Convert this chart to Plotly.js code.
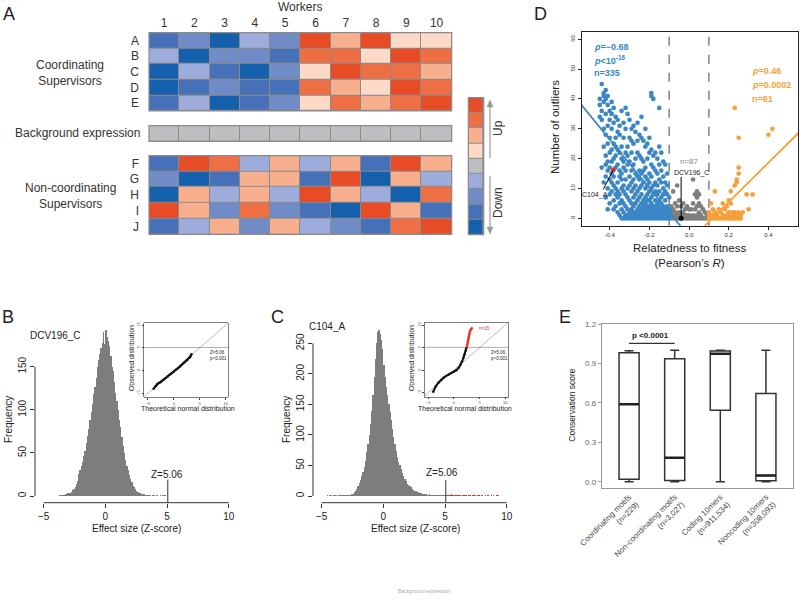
<!DOCTYPE html>
<html><head><meta charset="utf-8">
<script src="https://cdn.plot.ly/plotly-3.0.1.min.js"></script>
<style>html,body{margin:0;padding:0;background:#fff}#chart{width:800px;height:601px}</style>
</head><body><div id="chart"></div>
<script>
// ---------- DATA ----------
const workers=[1,2,3,4,5,6,7,8,9,10];
const coordRows=['A','B','C','D','E'];
const nonCoordRows=['F','G','H','I','J'];
const coordLevels=[
 [-3,-2,-4,-1,-2,4,2,4,1,1],
 [-1,-4,-2,-2,-3,3,3,1,4,3],
 [-4,-1,-3,-4,-2,1,4,3,3,2],
 [-4,-3,-2,-3,-3,3,2,1,4,3],
 [-3,-1,-4,-3,-2,1,3,2,3,4]];
const backgroundLevels=[[0,0,0,0,0,0,0,0,0,0]];
const nonCoordLevels=[
 [-3,4,3,-1,2,-1,2,-3,4,2],
 [-2,-4,-3,2,2,-3,4,-4,2,-1],
 [-4,2,-1,2,-1,4,2,-1,-4,3],
 [4,2,-2,3,-2,-3,-4,4,2,-3],
 [-3,-1,2,-2,2,-1,-2,-3,3,4]];
const legendLevels=[[4],[3],[2],[1],[0],[-1],[-2],[-3],[-4]];
const levelColors=['#1560ad','#4671b9','#6f8cc7','#9eacdc','#bdbec2','#fcdac7','#f7af8d','#ef6f45','#e84c26'];

const binWidth=0.1;
const histBStart=-3.8;
const histBCounts=[1,1,1,1,1,2,2,3,3,4, 5,7,8,11,14,17,25,30,35,40, 47,52,62,70,78,88,97,107,118,127,
 137,150,158,165,172,178,190,176,193,185, 180,174,163,150,145,132,120,110,100,88, 80,68,58,50,42,35,30,24,20,16,
 12,10,8,6,5,4,3,2,2,2, 1,1,1,1,1,0,1,1,0,1, 1,0,1,0,1,1,1];
const histCStart=-4.6;
const histCCounts=[1,0,1,1,0,1,1,1,0,1,1,1,1,1,2,1,1,1,2,2,
 3,4,6,9,12,17,22,27,33,40, 48,58,72,85,100,118,140,165,195,225,
 250,268,272,265,255,240,215,195,178,165, 150,138,125,110,97,85,74,64,56,50,
 44,38,33,28,24,20,18,16,14,12, 10,9,8,7,6,5,5,4,4,3, 3,2,2,3,2,1,2,1,2,1, 1,2,1,1,2,1,
 2,1,1,2,1,3,2,1,2,1,1,2,1,0,1,1,2,1,0,1,1,0,1,1,1,0,1,1,0,1,1,0,1,0,1,1,0,1,0,1,0,1,1,1];
const zThreshold=5.06;

const qqBTheo=[-3.9,-3.6,-3.3,-3.0,-2.7,-2.4,-2.0,-1.6,-1.2,-0.8,-0.4,0,0.4,0.8,1.2,1.6,2.0,2.4,2.7,3.0,3.2,3.4];
const qqBObs=[-4.0,-3.6,-3.1,-2.8,-2.65,-2.4,-2.05,-1.7,-1.3,-0.95,-0.6,-0.25,0.15,0.5,0.9,1.3,1.7,2.1,2.45,2.8,3.1,3.6];
const qqCTheo=[-4.0,-3.5,-3.0,-2.5,-2.0,-1.5,-1.0,-0.5,0,0.5,1.0,1.3,1.6,1.9,2.1,2.3,2.45];
const qqCObs=[-4.8,-3.6,-2.8,-2.2,-1.7,-1.3,-0.95,-0.65,-0.35,0,0.6,1.2,1.9,2.8,3.5,4.3,4.9];
const qqCRedTheo=[2.55,2.6,2.65,2.7,2.75,2.8,2.85,2.9,2.95,3.0,3.05,3.1,3.2,3.35,3.5];
const qqCRedObs=[5.2,5.5,5.8,6.1,6.4,6.7,7.0,7.3,7.6,7.9,8.2,8.5,8.8,9.1,9.3];

const blueX=[-0.45,-0.44,-0.43,-0.42,-0.41,-0.40,-0.39,-0.38,-0.37,-0.36,-0.35,-0.34,-0.33,-0.32,-0.31,-0.30,-0.29,-0.28,-0.27,-0.26,-0.25,-0.24,-0.23,-0.22,-0.21,-0.20,-0.19,-0.18,-0.17,-0.16,-0.15,-0.14,-0.13,-0.12,-0.11,-0.10];
const blueY=[[34,38,40],[45,36,33,17],[42,41,39,30,24,12],[43,40,35,28,21,18,14,7],
 [41,38,31,25,19,16,10,3],[36,33,27,22,17,13,8,5],[39,35,30,23,19,15,12,9],
 [37,32,25,20,14,11,6,3],[34,27,24,21,17,10,8,4],[33,29,23,18,12,9,7,2],
 [31,28,22,16,14,8,5,1],[36,24,20,15,13,10,6,3,0],[32,27,19,17,11,9,5,2,0],
 [37,30,22,16,13,8,4,1,0],[35,24,21,18,10,7,3,0,1],[33,27,19,14,11,6,2,0,1],
 [30,26,22,16,12,9,5,3,1,0],[31,25,18,13,10,7,4,2,0,1],[29,20,15,11,8,5,1,0,2],
 [32,26,22,14,9,6,3,0,1,2],[28,21,16,13,10,7,4,2,0,1],[34,27,20,15,11,8,5,3,1,0,2],
 [26,19,16,12,6,4,2,0,1,3],[30,24,17,14,10,7,5,3,1,0,2],[25,20,13,11,8,6,4,2,0,1,3],
 [27,22,15,12,9,6,3,1,0,2,4],[42,41,23,18,14,10,7,5,2,0,1,3],[40,21,17,11,8,4,2,1,0,3],
 [22,16,12,9,6,4,3,0,1,2],[20,15,11,8,5,3,1,0,2],[37,24,18,13,9,6,4,2,0,1],[22,16,12,7,5,3,1,0,2],
 [19,14,10,8,4,2,0,1,3],[18,12,9,6,3,1,0,2],[15,11,8,4,2,0,1],[7,3,1,0,2]];
const grayX=[-0.09,-0.08,-0.07,-0.06,-0.05,-0.04,-0.03,-0.02,-0.01,0.00,0.01,0.02,0.03,0.04,0.05,0.06,0.07,0.08,0.09];
const grayY=[[4,2,1,0],[9,3,0],[5,2,0,1],[11,4,1,0],[6,2,0],[4,1,0],[5,2,0],[3,1,0],[4,0,1],[1,0,3],
 [3,0],[13,5,1,0],[8,3,0],[9,7,4,1,0],[8,5,2,0],[4,1,0],[3,0],[2,0],[1,0]];
const orangeX=[0.10,0.11,0.12,0.13,0.14,0.15,0.16,0.17,0.18,0.19,0.20,0.21,0.22,0.23,0.24,0.25,0.26,0.27,0.29,0.30,0.32,0.40,0.42];
const orangeY=[[2,1,0],[5,1,0],[3,0,1],[9,2,0],[1,0],[3,0],[2,0],[5,1,0],[3,0],[4,1,0],[6,2,0],[9,5,1,0],[2,0],
 [37,11,2,1,0],[13,12,1,0],[27,15,17,2,0],[1,0],[2],[8],[3],[8],[28],[30]];
const dcvX=[-0.04], dcvY=[0];
const c104X=[-0.382], c104Y=[16.2];
const blueFitSlope=-81.3, blueFitIntercept=-6.1;
const orangeFitSlope=66, orangeFitIntercept=-7.76;
const fitBounds=[-0.6,0.6];
const relCutoffs=[-0.1,0.1];

const boxLabels=['Coordinating motifs<br>(n=229)','Non-coordinating motifs<br>(n=3,027)','Coding 10mers<br>(n=911,534)','Noncoding 10mers<br>(n=308,093)'];
const boxMin=[0.0,0.0,0.0,0.0];
const boxQ1=[0.02,0.01,0.545,0.008];
const boxMedian=[0.59,0.183,0.974,0.048];
const boxQ3=[0.982,0.936,0.995,0.672];
const boxMax=[0.997,1.0,1.0,1.0];
const pBracketY=1.053;

// ---------- HELPERS ----------
const W=800,H=601;
const dx=(a,b)=>[a/W,b/W];
const dy=(top,bottom)=>[1-bottom/H,1-top/H];
const FONT='Liberation Sans, Arial, Helvetica, sans-serif';
function ann(text,x,y,size,extra){return Object.assign({text:text,xref:'paper',yref:'paper',x:x/W,y:1-y/H,showarrow:false,xanchor:'center',yanchor:'middle',font:{size:size,color:'#222',family:FONT}},extra||{});}
function flat(xs,ys){const X=[],Y=[];xs.forEach((x,i)=>ys[i].forEach(v=>{X.push(x);Y.push(v);}));return [X,Y];}
const cs=[];levelColors.forEach((c,i)=>{cs.push([i/9,c]);cs.push([(i+1)/9,c]);});
const P=(x,y)=>(x/W).toFixed(5)+','+(1-y/H).toFixed(5);

// ---------- TRACES ----------
const traces=[];
function hm(z,y,xa,ya,x){traces.push({type:'heatmap',z:z,x:x||workers,y:y,xaxis:xa,yaxis:ya,colorscale:cs,zmin:-4.5,zmax:4.5,showscale:false,xgap:1,ygap:1,hoverinfo:'skip'});}
hm(coordLevels,coordRows,'x','y');
hm(backgroundLevels,['bg'],'x2','y2');
hm(nonCoordLevels,nonCoordRows,'x3','y3');
hm(legendLevels,legendLevels.map((_,i)=>i),'x4','y4',[0]);

const bCenters=histBCounts.map((_,i)=>+(histBStart+binWidth*(i+0.5)).toFixed(3));
traces.push({type:'bar',x:bCenters,y:histBCounts,width:binWidth,xaxis:'x5',yaxis:'y5',marker:{color:'#7d7d7d',line:{width:0}},hoverinfo:'skip'});
const cCenters=histCCounts.map((_,i)=>+(histCStart+binWidth*(i+0.5)).toFixed(3));
traces.push({type:'bar',x:cCenters,y:histCCounts,width:binWidth,xaxis:'x7',yaxis:'y7',marker:{color:cCenters.map(c=>c>=5?'#e8352b':'#7d7d7d'),line:{width:0}},hoverinfo:'skip'});

// QQ insets
traces.push({type:'scatter',mode:'lines',x:[-8,12],y:[-8,12],xaxis:'x6',yaxis:'y6',line:{color:'#888',width:0.6},hoverinfo:'skip'});
traces.push({type:'scatter',mode:'lines',x:[-8,12],y:[zThreshold,zThreshold],xaxis:'x6',yaxis:'y6',line:{color:'#777',width:0.6},hoverinfo:'skip'});
traces.push({type:'scatter',mode:'lines+markers',x:qqBTheo,y:qqBObs,xaxis:'x6',yaxis:'y6',line:{color:'#111',width:2},marker:{size:2.5,color:'#111'},hoverinfo:'skip'});
traces.push({type:'scatter',mode:'lines',x:[-8,12],y:[-8,12],xaxis:'x8',yaxis:'y8',line:{color:'#888',width:0.6},hoverinfo:'skip'});
traces.push({type:'scatter',mode:'lines',x:[-8,12],y:[zThreshold,zThreshold],xaxis:'x8',yaxis:'y8',line:{color:'#777',width:0.6},hoverinfo:'skip'});
traces.push({type:'scatter',mode:'lines+markers',x:qqCTheo,y:qqCObs,xaxis:'x8',yaxis:'y8',line:{color:'#111',width:2},marker:{size:2.5,color:'#111'},hoverinfo:'skip'});
traces.push({type:'scatter',mode:'markers',x:qqCRedTheo,y:qqCRedObs,xaxis:'x8',yaxis:'y8',marker:{size:2.5,color:'#e8352b'},hoverinfo:'skip'});

// Panel D
const [gX,gY]=flat(grayX,grayY), [oX,oY]=flat(orangeX,orangeY), [bX,bY]=flat(blueX,blueY);
const ms=4.7;
traces.push({type:'scatter',mode:'markers',x:gX,y:gY,xaxis:'x9',yaxis:'y9',marker:{size:ms,color:'#7f7f7f'},hoverinfo:'skip'});
traces.push({type:'scatter',mode:'markers',x:oX,y:oY,xaxis:'x9',yaxis:'y9',marker:{size:ms,color:'#f5a03a'},hoverinfo:'skip'});
traces.push({type:'scatter',mode:'markers',x:bX,y:bY,xaxis:'x9',yaxis:'y9',marker:{size:ms,color:'#3a86c8'},hoverinfo:'skip'});
traces.push({type:'scatter',mode:'lines',x:fitBounds,y:fitBounds.map(x=>blueFitSlope*x+blueFitIntercept),xaxis:'x9',yaxis:'y9',line:{color:'#3a86c8',width:1.8},hoverinfo:'skip'});
traces.push({type:'scatter',mode:'lines',x:fitBounds,y:fitBounds.map(x=>orangeFitSlope*x+orangeFitIntercept),xaxis:'x9',yaxis:'y9',line:{color:'#f5a03a',width:1.8},hoverinfo:'skip'});
traces.push({type:'scatter',mode:'markers',x:c104X,y:c104Y,xaxis:'x9',yaxis:'y9',marker:{size:5,color:'#e8352b'},hoverinfo:'skip'});
traces.push({type:'scatter',mode:'markers',x:dcvX,y:dcvY,xaxis:'x9',yaxis:'y9',marker:{size:5,color:'#000'},hoverinfo:'skip'});

// Panel E
const boxPos=boxLabels.map((_,i)=>i);
traces.push({type:'box',x:boxPos,q1:boxQ1,median:boxMedian,q3:boxQ3,lowerfence:boxMin,upperfence:boxMax,width:0.44,whiskerwidth:0.45,
 xaxis:'x10',yaxis:'y10',fillcolor:'#fff',line:{color:'#333',width:1.5},boxpoints:false,hoverinfo:'skip'});
const medX=[],medY=[];boxPos.forEach((p,i)=>{medX.push(p-0.22,p+0.22,null);medY.push(boxMedian[i],boxMedian[i],null);});
traces.push({type:'scatter',mode:'lines',x:medX,y:medY,xaxis:'x10',yaxis:'y10',line:{color:'#222',width:2.6},hoverinfo:'skip'});

// ---------- AXES ----------
const hid={showgrid:false,zeroline:false,showticklabels:false,ticks:'',showline:false};
const tf=(s,c)=>({size:s,color:c||'#222',family:FONT});
const insetX=(d,a,r)=>({domain:d,anchor:a,range:r,tickvals:[-5,0,5,10],ticks:'outside',ticklen:2,tickcolor:'#444',showgrid:false,zeroline:false,showline:true,mirror:true,linecolor:'#444',linewidth:0.7,tickfont:tf(4,'#444'),ticklabelstandoff:0});
const layout={width:W,height:H,margin:{l:0,r:0,t:0,b:0},paper_bgcolor:'#fff',plot_bgcolor:'rgba(0,0,0,0)',showlegend:false,bargap:0,
 font:{family:FONT,color:'#222'},
 xaxis:{domain:dx(149,451.7),anchor:'y',side:'top',range:[0.5,10.5],tickvals:workers,ticktext:workers.map(String),showgrid:false,zeroline:false,ticks:'',tickfont:tf(12,'#333'),ticklabelstandoff:2},
 yaxis:{domain:dy(32.7,111),anchor:'x',autorange:'reversed',showgrid:false,zeroline:false,ticks:'',tickfont:tf(12,'#333'),ticklabelstandoff:9},
 xaxis2:Object.assign({domain:dx(149,451.7),anchor:'y2',range:[0.5,10.5]},hid),
 yaxis2:Object.assign({domain:dy(125.7,141.3),anchor:'x2'},hid),
 xaxis3:Object.assign({domain:dx(149,451.7),anchor:'y3',range:[0.5,10.5]},hid),
 yaxis3:{domain:dy(155.7,234.3),anchor:'x3',autorange:'reversed',showgrid:false,zeroline:false,ticks:'',tickfont:tf(12,'#333'),ticklabelstandoff:9},
 xaxis4:Object.assign({domain:dx(468.3,483.7),anchor:'y4'},hid),
 yaxis4:Object.assign({domain:dy(97.7,234.7),anchor:'x4',autorange:'reversed'},hid),
 xaxis5:{domain:dx(35,236),anchor:'y5',range:[-5.705,10.59],tickvals:[-5,0,5,10],ticktext:['\u22125','0','5','10'],ticks:'outside',ticklen:4,tickcolor:'#333',showgrid:false,zeroline:false,showline:false,tickfont:tf(10)},
 yaxis5:{domain:dy(322,502.7),anchor:'x5',range:[-7.77,201.9],tickvals:[0,50,100,150],tickangle:-90,ticks:'outside',ticklen:4,tickcolor:'#333',showgrid:false,zeroline:false,showline:false,tickfont:tf(10)},
 xaxis6:insetX(dx(144.3,227.7),'y6',[-5.7,10.4]),
 yaxis6:Object.assign(insetX(dy(323.3,397.3),'x6',[-5.9,10.4]),{tickangle:-90}),
 xaxis7:{domain:dx(313,514),anchor:'y7',range:[-5.705,10.59],tickvals:[-5,0,5,10],ticktext:['\u22125','0','5','10'],ticks:'outside',ticklen:4,tickcolor:'#333',showgrid:false,zeroline:false,showline:false,tickfont:tf(10)},
 yaxis7:{domain:dy(322,502.7),anchor:'x7',range:[-10.97,284.9],tickvals:[0,50,100,150,200,250],tickangle:-90,ticks:'outside',ticklen:4,tickcolor:'#333',showgrid:false,zeroline:false,showline:false,tickfont:tf(10)},
 xaxis8:insetX(dx(425,508.3),'y8',[-5.6,10.6]),
 yaxis8:Object.assign(insetX(dy(323.3,396.7),'x8',[-5.9,10.4]),{tickangle:-90}),
 xaxis9:{domain:dx(581.7,798),anchor:'y9',range:[-0.541,0.549],tickvals:[-0.4,-0.2,0,0.2,0.4],ticktext:['-0.4','-0.2','0.0','0.2','0.4'],ticks:'outside',ticklen:3,tickcolor:'#222',showgrid:false,zeroline:false,showline:true,mirror:true,linecolor:'#222',linewidth:1,tickfont:tf(6,'#333')},
 yaxis9:{domain:dy(32.3,225.7),anchor:'x9',range:[-2.48,62.35],tickvals:[0,10,20,30,40,50,60],tickangle:-90,ticks:'outside',ticklen:3,tickcolor:'#222',showgrid:false,zeroline:false,showline:true,mirror:true,linecolor:'#222',linewidth:1,tickfont:tf(6,'#333')},
 xaxis10:{domain:dx(601.7,793.3),anchor:'y10',range:[-0.6,3.6],tickvals:boxPos,ticktext:boxLabels,tickangle:-45,ticks:'',showgrid:false,zeroline:false,showline:true,mirror:true,linecolor:'#999',linewidth:1,tickfont:tf(8,'#444')},
 yaxis10:{domain:dy(324,488.3),anchor:'x10',range:[-0.049,1.2],tickvals:[0,0.3,0.6,0.9,1.2],ticktext:['0.0','0.3','0.6','0.9','1.2'],ticks:'outside',ticklen:3,tickcolor:'#999',showgrid:false,zeroline:false,showline:true,mirror:true,linecolor:'#999',linewidth:1,tickfont:tf(8,'#666')}
};

// ---------- SHAPES ----------
const shapes=[];
[['x','y'],['x2','y2'],['x3','y3'],['x4','y4']].forEach(([a,b])=>{
 shapes.push({type:'rect',xref:a+' domain',yref:b+' domain',x0:0,x1:1,y0:0,y1:1,fillcolor:'#8a8a8a',line:{color:'#8a8a8a',width:0},layer:'below'});
 shapes.push({type:'rect',xref:a+' domain',yref:b+' domain',x0:0,x1:1,y0:0,y1:1,fillcolor:'rgba(0,0,0,0)',line:{color:'#8a8a8a',width:1.2},layer:'above'});
});
// Up / Down arrows next to the colour key
shapes.push({type:'line',xref:'paper',yref:'paper',x0:490/W,x1:490/W,y0:1-158/H,y1:1-104/H,line:{color:'#999',width:1.2}});
shapes.push({type:'path',xref:'paper',yref:'paper',path:'M'+P(487,107)+'L'+P(490,100)+'L'+P(493,107)+'Z',fillcolor:'#999',line:{color:'#999',width:0.5}});
shapes.push({type:'line',xref:'paper',yref:'paper',x0:490/W,x1:490/W,y0:1-176/H,y1:1-230/H,line:{color:'#999',width:1.2}});
shapes.push({type:'path',xref:'paper',yref:'paper',path:'M'+P(487,227)+'L'+P(490,234)+'L'+P(493,227)+'Z',fillcolor:'#999',line:{color:'#999',width:0.5}});
// R-style axes for histograms
shapes.push({type:'line',xref:'x5',yref:'y5 domain',x0:-5,x1:10,y0:0,y1:0,line:{color:'#333',width:1}});
shapes.push({type:'line',xref:'x5 domain',yref:'y5',x0:0,x1:0,y0:0,y1:150,line:{color:'#333',width:1}});
shapes.push({type:'line',xref:'x5',yref:'y5',x0:zThreshold,x1:zThreshold,y0:-7.77,y1:19,line:{color:'#333',width:1}});
shapes.push({type:'line',xref:'x7',yref:'y7 domain',x0:-5,x1:10,y0:0,y1:0,line:{color:'#333',width:1}});
shapes.push({type:'line',xref:'x7 domain',yref:'y7',x0:0,x1:0,y0:0,y1:250,line:{color:'#333',width:1}});
shapes.push({type:'line',xref:'x7',yref:'y7',x0:zThreshold,x1:zThreshold,y0:-10.97,y1:26,line:{color:'#333',width:1}});
// Panel D
relCutoffs.forEach(c=>shapes.push({type:'line',xref:'x9',yref:'y9 domain',x0:c,x1:c,y0:0,y1:1,line:{color:'#888',width:1.6,dash:'dash'},layer:'below'}));
shapes.push({type:'line',xref:'x9',yref:'y9',x0:dcvX[0],x1:dcvX[0],y0:dcvY[0],y1:13.9,line:{color:'#000',width:1}});
shapes.push({type:'line',xref:'x9',yref:'y9',x0:c104X[0],x1:-0.432,y0:c104Y[0],y1:9.7,line:{color:'#000',width:1}});
// Panel E bracket
shapes.push({type:'line',xref:'x10',yref:'y10',x0:0,x1:1,y0:pBracketY,y1:pBracketY,line:{color:'#333',width:1.2}});
layout.shapes=shapes;

// ---------- ANNOTATIONS ----------
const A=[];
const g12={size:12,color:'#333',family:FONT};
A.push(ann('A',9,14,18));
A.push(ann('Workers',300,7,12,{font:g12}));
A.push(ann('Coordinating<br>Supervisors',70,73,12,{font:g12}));
A.push(ann('Background expression',77,133,12,{font:g12}));
A.push(ann('Non-coordinating<br>Supervisors',70,196,12,{font:g12}));
A.push(ann('Up',498,128,12,{textangle:-90,font:g12}));
A.push(ann('Down',498,203,12,{textangle:-90,font:g12}));
// B
A.push(ann('B',8,317,18));
A.push(ann('DCV196_C',55,335.7,10));
A.push(ann('Z=5.06',167,474.5,10));
A.push(ann('Frequency',8,420,10,{textangle:-90}));
A.push(ann('Effect size (Z-score)',136,528,10));
A.push(ann('Observed distribution',131.2,358,7,{textangle:-90}));
A.push(ann('Theoretical normal distribution',188,408.8,7));
A.push(ann('Z=5.06<br>p<0.001',208,355,4.5,{xanchor:'left',align:'left'}));
// C
A.push(ann('C',277,317,18));
A.push(ann('C104_A',327,326.7,10));
A.push(ann('Z=5.06',442,472.7,10));
A.push(ann('Frequency',286,420,10,{textangle:-90}));
A.push(ann('Effect size (Z-score)',415,528,10));
A.push(ann('Observed distribution',411.2,358,7,{textangle:-90}));
A.push(ann('Theoretical normal distribution',465,408.5,7));
A.push(ann('Z=5.06<br>p<0.001',489,355,4.5,{xanchor:'left',align:'left'}));
A.push(ann('n=15',477,328.5,4.5,{xanchor:'left',font:{size:4.5,color:'#e8352b',family:FONT}}));
// D
A.push(ann('D',540,14,18));
A.push(ann('Number of outliers',555,127,11.5,{textangle:-90}));
A.push(ann('Relatedness to fitness<br>(Pearson\u2019s <i>R</i>)',689,255.5,11.5));
const bc={size:9,color:'#3a86c8',family:FONT}, oc={size:9,color:'#f5a03a',family:FONT};
A.push(ann('<b><i>\u03c1</i>=\u22120.68</b>',591.7,46.7,9,{xanchor:'left',font:bc}));
A.push(ann('<b><i>p</i><10<sup>-16</sup></b>',591.7,60,9,{xanchor:'left',font:bc}));
A.push(ann('<b>n=335</b>',591.7,73.3,9,{xanchor:'left',font:bc}));
A.push(ann('<b><i>\u03c1</i>=0.46</b>',750,70.7,9,{xanchor:'left',font:oc}));
A.push(ann('<b><i>p</i>=0.0002</b>',750,85,9,{xanchor:'left',font:oc}));
A.push(ann('<b>n=61</b>',750,99.3,9,{xanchor:'left',font:oc}));
A.push(ann('n=87',689.3,161,8,{font:{size:8,color:'#888',family:FONT}}));
A.push(ann('DCV196_C',691.7,173.3,7));
A.push(ann('C104_A',595,195,7));
// E
A.push(ann('E',564.7,317,18));
A.push(ann('Conservation score',571.7,405,8.5,{textangle:-90}));
A.push(ann('<b>p <0.0001</b>',650.7,336,8));
A.push(ann('Background expression',424,590.5,5,{font:{size:5,color:'#aaa',family:FONT}}));
layout.annotations=A;

Plotly.newPlot('chart',traces,layout,{displayModeBar:false,staticPlot:true});
</script></body></html>
